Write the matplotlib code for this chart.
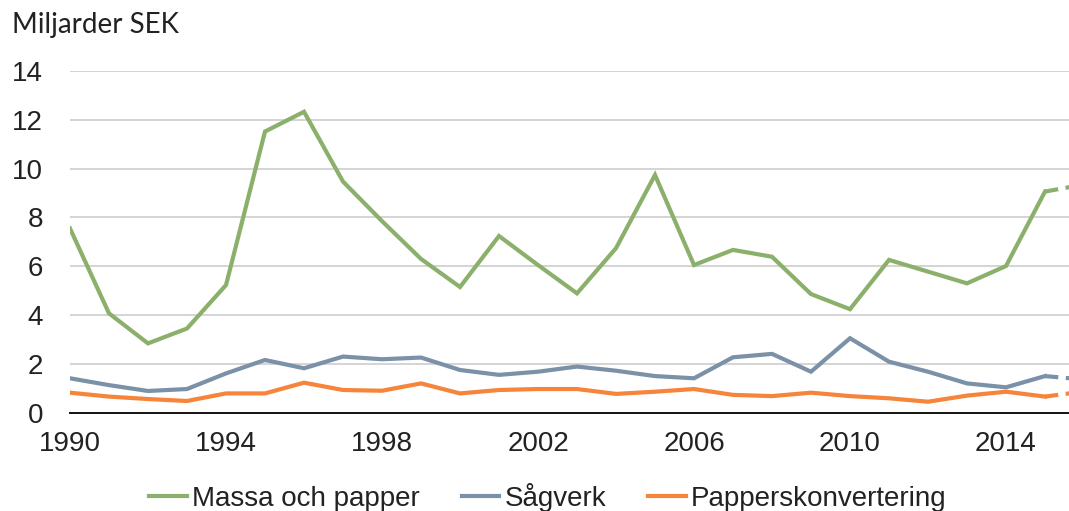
import matplotlib
matplotlib.use("Agg")
import matplotlib.pyplot as plt
import numpy as np

years = list(range(1990, 2017))
massa_och_papper = [7.55, 4.07, 2.84, 3.45, 5.23, 11.52, 12.33, 9.47, 7.85, 6.3,
                    5.15, 7.24, 6.05, 4.89, 6.74, 9.74, 6.05, 6.67, 6.39, 4.86,
                    4.24, 6.26, 5.78, 5.30, 6.01, 9.06, 9.35]
sagverk = [1.41, 1.13, 0.89, 0.97, 1.61, 2.16, 1.82, 2.30, 2.19, 2.26,
           1.75, 1.55, 1.68, 1.89, 1.72, 1.50, 1.41, 2.27, 2.41, 1.68,
           3.05, 2.09, 1.68, 1.20, 1.04, 1.50, 1.36]
papperskonvertering = [0.82, 0.66, 0.56, 0.48, 0.79, 0.79, 1.23, 0.93, 0.90, 1.20,
                       0.79, 0.93, 0.97, 0.97, 0.77, 0.86, 0.97, 0.73, 0.68, 0.82,
                       0.68, 0.59, 0.45, 0.70, 0.86, 0.66, 0.87]

series_names = ["Massa och papper", "Sågverk", "Papperskonvertering"]
series_values = [massa_och_papper, sagverk, papperskonvertering]
colors = ["#8bb06b", "#7a91a7", "#f6843a"]
y_ticks = [0, 2, 4, 6, 8, 10, 12, 14]
x_ticks = [1990, 1994, 1998, 2002, 2006, 2010, 2014]
last_actual = 2015  # final year is a forecast, drawn dashed

W, H = 1069, 511
fig = plt.figure(figsize=(W / 100, H / 100), dpi=100)
ax = fig.add_axes([70 / W, 1 - 412.7 / H, 1 - 70 / W, (412.7 - 71) / H])

tick_font = "Liberation Sans"
yrs = np.array(years)
for name, vals, col in zip(series_names, series_values, colors):
    v = np.array(vals)
    solid = yrs <= last_actual
    ax.plot(yrs[solid], v[solid], color=col, lw=3.0, solid_joinstyle="miter",
            label=name, clip_on=True)
    dashed = yrs >= last_actual
    ax.plot(yrs[dashed], v[dashed], color=col, lw=3.0, ls=(0, (3.2, 1.8)),
            dash_capstyle="butt")

ax.set_xlim(1990, 1990 + (W - 70) / 39.0)
ax.set_ylim(0, 14)
ax.set_yticks(y_ticks)
ax.set_xticks(x_ticks)
ax.grid(axis="y", color="#d4d4d4", lw=1.4)
ax.set_axisbelow(True)
for s in ["top", "right", "left"]:
    ax.spines[s].set_visible(False)
ax.spines["bottom"].set_color("#111111")
ax.spines["bottom"].set_linewidth(1.4)
ax.spines["bottom"].set_zorder(1)
ax.tick_params(axis="both", length=0, labelsize=20, colors="#222222")
ax.tick_params(axis="y", pad=19.5)
ax.tick_params(axis="x", pad=13)
for lab in ax.get_xticklabels() + ax.get_yticklabels():
    lab.set_fontfamily(tick_font)

fig.text(12 / W, 1 - 25 / H, "Miljarder SEK", fontsize=20, family="Lato",
         va="center", ha="left", color="#222222")

handles, labels = ax.get_legend_handles_labels()
leg = fig.legend(handles, labels, loc="center", bbox_to_anchor=(548 / W, 1 - 497 / H),
                 ncol=3, frameon=False, handlelength=1.35, handletextpad=0.2,
                 columnspacing=1.5, prop={"family": tick_font, "size": 20})
for t in leg.get_texts():
    t.set_color("#222222")

fig.savefig("out.png", dpi=100)
